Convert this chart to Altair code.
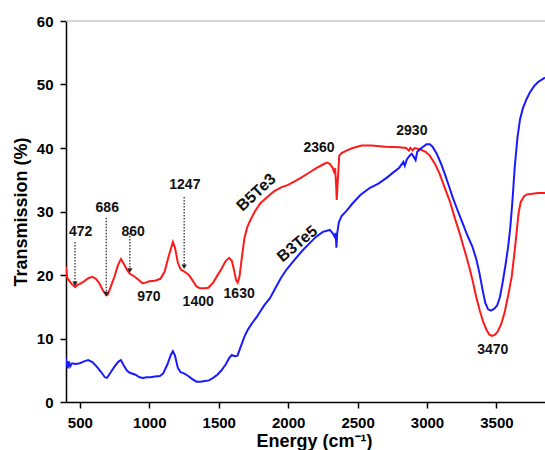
import altair as alt
import pandas as pd

# B5Te3 (red) spectrum
red_x = [400, 408, 420, 440, 465, 480, 500, 530, 560, 590, 615, 640, 665, 690, 700, 720, 750, 775, 796, 815,
         840, 860, 890, 920, 950, 975, 1000, 1040, 1080, 1110, 1140, 1170, 1185, 1205, 1225, 1255, 1285, 1310,
         1340, 1365, 1400, 1425, 1460, 1490, 1520, 1550, 1575, 1595, 1610, 1625, 1637, 1650, 1665, 1685, 1705,
         1725, 1760, 1800, 1850, 1900, 1950, 2000, 2050, 2100, 2150, 2200, 2250, 2280, 2300, 2320, 2330, 2338,
         2345, 2350, 2355, 2362, 2368, 2385, 2420, 2465, 2530, 2600, 2700, 2800, 2850, 2870, 2880, 2897, 2910,
         2950, 2990, 3020, 3060, 3090, 3130, 3165, 3200, 3235, 3260, 3285, 3310, 3330, 3355, 3380, 3405, 3430,
         3450, 3468, 3490, 3510, 3535, 3558, 3585, 3610, 3630, 3645, 3660, 3675, 3700, 3720, 3760, 3800, 3850]
red_y = [21.3, 19.6, 19.2, 18.6, 18.1, 18.4, 18.6, 19.0, 19.5, 19.7, 19.4, 18.7, 17.6, 16.8, 16.9, 18.0, 19.8,
         21.6, 22.5, 21.8, 20.8, 20.2, 19.8, 19.3, 18.7, 18.8, 19.0, 19.1, 19.4, 20.5, 23.0, 25.2, 24.3, 22.0,
         20.9, 20.5, 20.0, 19.2, 18.2, 17.9, 17.9, 18.0, 18.8, 19.9, 21.0, 22.2, 22.7, 22.2, 20.8, 19.2, 18.8,
         19.8, 22.5, 25.8, 27.5, 28.5, 30.0, 31.3, 32.3, 33.2, 33.8, 34.2, 34.8, 35.4, 36.1, 36.8, 37.4, 37.7,
         37.5, 36.9, 36.3, 36.8, 34.5, 31.8, 34.0, 36.5, 38.8, 39.2, 39.6, 40.0, 40.4, 40.4, 40.2, 40.1, 40.0,
         39.6, 40.0, 39.6, 40.0, 39.8, 39.4, 38.8, 37.4, 36.0, 33.6, 31.6, 29.0, 26.6, 24.7, 22.8, 20.8, 19.0,
         16.5, 14.4, 12.6, 11.3, 10.6, 10.4, 10.6, 11.1, 12.3, 14.0, 16.8, 19.7, 23.5, 26.6, 29.8, 31.5, 32.4,
         32.7, 32.8, 32.9, 32.9]

# B3Te5 (blue) spectrum
blue_x = [400, 405, 412, 420, 430, 443, 470, 500, 530, 560, 590, 620, 650, 680, 695, 720, 750, 780, 796, 815,
          840, 860, 900, 930, 955, 980, 1010, 1040, 1076, 1100, 1130, 1155, 1170, 1185, 1205, 1225, 1250, 1280,
          1310, 1340, 1370, 1400, 1430, 1460, 1490, 1520, 1550, 1575, 1594, 1615, 1635, 1660, 1685, 1710, 1740,
          1774, 1800, 1830, 1868, 1900, 1950, 1990, 2050, 2105, 2150, 2200, 2250, 2300, 2320, 2335, 2342, 2348,
          2353, 2365, 2385, 2420, 2465, 2520, 2587, 2650, 2709, 2760, 2800, 2830, 2840, 2855, 2875, 2890, 2905,
          2918, 2930, 2960, 2997, 3020, 3040, 3070, 3100, 3130, 3160, 3184, 3220, 3256, 3290, 3328, 3355, 3378,
          3400, 3420, 3440, 3460, 3485, 3505, 3525, 3544, 3565, 3585, 3600, 3616, 3632, 3652, 3670, 3690, 3715,
          3740, 3770, 3800, 3830, 3850]
blue_y = [6.9, 6.2, 5.3, 6.4, 5.6, 6.1, 6.0, 6.1, 6.4, 6.6, 6.3, 5.6, 4.8, 3.9, 3.8, 4.6, 5.6, 6.4, 6.6, 5.8,
          4.9, 4.6, 4.3, 3.9, 3.8, 3.9, 3.9, 4.0, 4.1, 4.5, 5.9, 7.4, 8.0, 7.3, 5.4, 4.7, 4.5, 4.1, 3.6, 3.2,
          3.2, 3.3, 3.4, 3.8, 4.3, 5.0, 5.9, 6.9, 7.4, 7.2, 7.3, 8.8, 10.3, 11.4, 12.4, 13.4, 14.3, 15.3, 16.3,
          17.6, 19.6, 20.9, 22.5, 23.9, 24.9, 26.0, 26.8, 27.1, 26.6, 26.0, 26.6, 24.3, 26.5, 28.3, 29.3, 30.1,
          31.3, 32.6, 33.7, 34.4, 35.3, 36.2, 36.9, 37.8, 37.2, 38.2, 38.8, 39.1, 38.6, 38.1, 39.4, 40.0, 40.6,
          40.6, 40.2, 39.1, 37.6, 35.8, 33.9, 32.3, 30.2, 28.2, 26.3, 24.4, 22.5, 20.3, 17.7, 15.6, 14.6, 14.4,
          14.7, 15.2, 16.5, 18.7, 21.5, 24.5, 27.5, 31.8, 37.0, 41.7, 44.5, 46.2, 47.6, 48.7, 49.7, 50.4, 50.8,
          51.1]

# peak annotations
ann_text = ["472", "686", "860", "970", "1247", "1400", "1630", "2360", "2930", "3470"]
ann_x = [506, 697, 884, 997, 1256, 1352, 1647, 2222, 2891, 3474]
ann_y = [26.7, 30.6, 26.8, 16.6, 34.2, 15.7, 17.0, 40.0, 42.6, 8.2]

# dotted arrows
arrow_x = [465, 690, 860, 1251]
arrow_top = [25.2, 29.0, 26.6, 32.3]
arrow_bottom = [18.6, 17.0, 20.7, 21.3]

# rotated series labels
series_names = ["B5Te3", "B3Te5"]
series_lx = [1770, 2066]
series_ly = [33.0, 24.9]
series_angle = [317, 320]

FONT = "Liberation Sans"

df = pd.concat([
    pd.DataFrame({"x": red_x, "y": red_y, "s": "B5Te3"}),
    pd.DataFrame({"x": blue_x, "y": blue_y, "s": "B3Te5"}),
])
ann = pd.DataFrame({"t": ann_text, "x": ann_x, "y": ann_y})
arr = pd.DataFrame({"x": arrow_x, "y1": arrow_top, "y2": arrow_bottom})
lab = pd.DataFrame({"t": series_names, "x": series_lx, "y": series_ly, "a": series_angle})

xscale = alt.Scale(domain=[400, 3850], nice=False, zero=False)
yscale = alt.Scale(domain=[0, 60], nice=False)

xaxis = alt.Axis(
    values=list(range(500, 3851, 250)), format="d",
    labelExpr="datum.value % 500 === 0 ? datum.label : ''",
    tickSize={"condition": {"test": "datum.value % 500 === 0", "value": 6}, "value": 4},
    title="Energy (cm⁻¹)", grid=False, domainColor="black", domainWidth=1.5,
    tickColor="black", tickWidth=1.5, labelFont=FONT, labelFontSize=15, labelFontWeight="bold",
    labelColor="black", labelPadding=7, titleFont=FONT, titleFontSize=18, titleFontWeight="bold",
    titleColor="black", titleY=44, titleBaseline="alphabetic", titleX=248, titleAlign="center", labelFlush=False,
)
yaxis = alt.Axis(
    values=list(range(0, 61, 5)),
    labelExpr="datum.value % 10 === 0 ? datum.label : ''",
    tickSize={"condition": {"test": "datum.value % 10 === 0", "value": 6}, "value": 4},
    title="Transmission (%)", grid=False, domainColor="black", domainWidth=1.5,
    tickColor="black", tickWidth=1.5, labelFont=FONT, labelFontSize=15, labelFontWeight="bold",
    labelColor="black", labelPadding=7, titleFont=FONT, titleFontSize=18, titleFontWeight="bold",
    titleColor="black", titlePadding=6, labelFlush=False,
)

lines = alt.Chart(df).mark_line(strokeWidth=2, clip=True).encode(
    x=alt.X("x:Q", scale=xscale, axis=xaxis),
    y=alt.Y("y:Q", scale=yscale, axis=yaxis),
    color=alt.Color("s:N", scale=alt.Scale(domain=["B5Te3", "B3Te5"], range=["#ff1a1a", "#1a1aff"]), legend=None),
    detail="s:N",
    order="x:Q",
)

top = alt.Chart(pd.DataFrame({"y": [60]})).mark_rule(color="#c8c8c8", strokeWidth=1.5).encode(
    y=alt.Y("y:Q", scale=yscale)
)

texts = alt.Chart(ann).mark_text(font=FONT, fontSize=14, fontWeight="bold", color="#111").encode(
    x=alt.X("x:Q", scale=xscale), y=alt.Y("y:Q", scale=yscale), text="t:N"
)

arrows = alt.Chart(arr).mark_rule(color="#222", strokeWidth=1.2, strokeDash=[1.5, 1.5]).encode(
    x=alt.X("x:Q", scale=xscale), y=alt.Y("y1:Q", scale=yscale), y2="y2:Q"
)
heads = alt.Chart(arr).mark_point(shape="triangle-down", filled=True, color="#222", size=28, opacity=1).encode(
    x=alt.X("x:Q", scale=xscale), y=alt.Y("y2:Q", scale=yscale)
)

labels = alt.Chart(lab).mark_text(font=FONT, fontSize=16, fontWeight="bold", color="#111").encode(
    x=alt.X("x:Q", scale=xscale), y=alt.Y("y:Q", scale=yscale), text="t:N", angle=alt.Angle("a:Q", scale=None)
)

chart = alt.layer(top, lines, arrows, heads, texts, labels).properties(
    width=479, height=381,
    autosize=alt.AutoSizeParams(type="none"),
    padding={"left": 66, "top": 21, "right": 0, "bottom": 48},
).configure_view(stroke=None)

chart.save("out.html", embed_options={"renderer": "svg", "actions": False})
